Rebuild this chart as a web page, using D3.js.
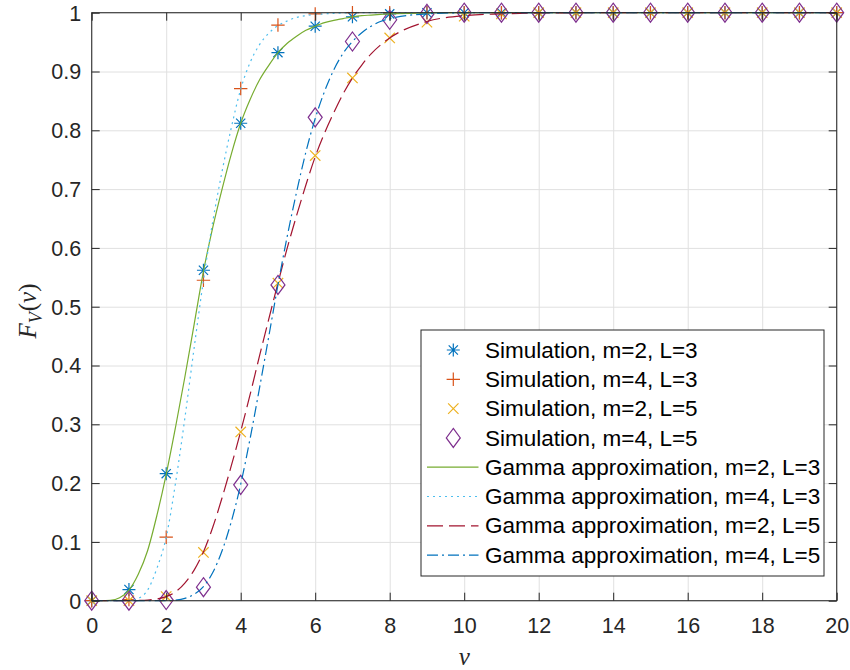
<!DOCTYPE html>
<html>
<head>
<meta charset="UTF-8">
<title>CDF of V: simulation vs Gamma approximation</title>
<script src="https://d3js.org/d3.v7.min.js"></script>
<style>
    body { margin: 0; background: #fff; }
    .tick text { font-family: "Liberation Sans", Arial, Helvetica, sans-serif; font-size: 21.5px; fill: #262626; }
    .legend text { font-family: "Liberation Sans", Arial, Helvetica, sans-serif; font-size: 22.5px; fill: #000; }
</style>
</head>
<body>
<div id="chart"></div>
<script>
// simulation points
const simV    = [0, 1, 2, 3, 4, 5, 6, 7, 8, 9, 10, 11, 12, 13, 14, 15, 16, 17, 18, 19, 20];
const simM2L3 = [0, 0.019, 0.216, 0.562, 0.812, 0.932, 0.977, 0.993, 0.998, 1, 1, 1, 1, 1, 1, 1, 1, 1, 1, 1, 1];
const simM4L3 = [0, 0.002, 0.108, 0.545, 0.871, 0.979, 0.998, 1, 1, 1, 1, 1, 1, 1, 1, 1, 1, 1, 1, 1, 1];
const simM2L5 = [0, 0, 0.007, 0.082, 0.287, 0.54, 0.757, 0.889, 0.957, 0.984, 0.994, 0.998, 1, 1, 1, 1, 1, 1, 1, 1, 1];
const simM4L5 = [0, 0, 0.001, 0.023, 0.197, 0.537, 0.822, 0.951, 0.988, 0.998, 1, 1, 1, 1, 1, 1, 1, 1, 1, 1, 1];

// gamma approximation curves
const gridV = [0, 0.25, 0.5, 0.75, 1, 1.25, 1.5, 1.75, 2, 2.25, 2.5, 2.75, 3, 3.25, 3.5, 3.75,
               4, 4.25, 4.5, 4.75, 5, 5.25, 5.5, 5.75, 6, 6.25, 6.5, 6.75, 7, 7.25, 7.5, 7.75,
               8, 9, 10, 11, 12, 14, 16, 18, 20];
const gamM2L3 = [0, 0, 0.0005, 0.005, 0.018, 0.045, 0.085, 0.145, 0.215, 0.295, 0.38, 0.47, 0.56, 0.635, 0.70, 0.76,
                 0.812, 0.852, 0.885, 0.91, 0.932, 0.948, 0.96, 0.97, 0.977, 0.983, 0.987, 0.99, 0.993, 0.995, 0.996, 0.997,
                 0.998, 0.9995, 1, 1, 1, 1, 1, 1, 1];
const gamM4L3 = [0, 0, 0, 0, 0.0005, 0.004, 0.018, 0.055, 0.108, 0.2, 0.31, 0.43, 0.545, 0.645, 0.73, 0.805,
                 0.87, 0.915, 0.945, 0.965, 0.978, 0.986, 0.992, 0.995, 0.997, 0.998, 0.999, 0.9995, 1, 1, 1, 1,
                 1, 1, 1, 1, 1, 1, 1, 1, 1];
const gamM2L5 = [0, 0, 0, 0, 0, 0.0003, 0.001, 0.003, 0.007, 0.015, 0.03, 0.052, 0.083, 0.125, 0.175, 0.23,
                 0.288, 0.35, 0.415, 0.478, 0.54, 0.6, 0.655, 0.707, 0.755, 0.795, 0.83, 0.862, 0.889, 0.911, 0.93, 0.945,
                 0.957, 0.985, 0.995, 0.998, 0.9995, 1, 1, 1, 1];
const gamM4L5 = [0, 0, 0, 0, 0, 0, 0, 0, 0, 0.001, 0.004, 0.011, 0.024, 0.048, 0.085, 0.135,
                 0.198, 0.275, 0.36, 0.448, 0.537, 0.62, 0.695, 0.763, 0.82, 0.866, 0.903, 0.931, 0.951, 0.966, 0.977, 0.985,
                 0.99, 0.998, 1, 1, 1, 1, 1, 1, 1];

const xTicks = [0, 2, 4, 6, 8, 10, 12, 14, 16, 18, 20];
const yTicks = [0, 0.1, 0.2, 0.3, 0.4, 0.5, 0.6, 0.7, 0.8, 0.9, 1];
const yTickLabels = ["0", "0.1", "0.2", "0.3", "0.4", "0.5", "0.6", "0.7", "0.8", "0.9", "1"];

const simLabels = ["Simulation, m=2, L=3", "Simulation, m=4, L=3", "Simulation, m=2, L=5", "Simulation, m=4, L=5"];
const gamLabels = ["Gamma approximation, m=2, L=3", "Gamma approximation, m=4, L=3",
                   "Gamma approximation, m=2, L=5", "Gamma approximation, m=4, L=5"];

const width = 850, height = 670;
const plot = { left: 91.7, right: 836.7, top: 12.7, bottom: 600.7 };
const axisColor = "#262626";

const svg = d3.select("#chart").append("svg")
    .attr("width", width)
    .attr("height", height);

const x = d3.scaleLinear().domain([0, 20]).range([plot.left, plot.right]);
const y = d3.scaleLinear().domain([0, 1]).range([plot.bottom, plot.top]);

// grid
svg.append("g")
    .attr("transform", `translate(0,${plot.bottom})`)
    .call(d3.axisBottom(x).tickValues(xTicks).tickSize(-(plot.bottom - plot.top)).tickFormat(""))
    .call(g => g.select(".domain").remove())
    .selectAll("line").attr("stroke", "#e0e0e0").attr("stroke-width", 1);
svg.append("g")
    .attr("transform", `translate(${plot.left},0)`)
    .call(d3.axisLeft(y).tickValues(yTicks).tickSize(-(plot.right - plot.left)).tickFormat(""))
    .call(g => g.select(".domain").remove())
    .selectAll("line").attr("stroke", "#e0e0e0").attr("stroke-width", 1);

// marker shapes
function markerPath(type, cx, cy) {
    if (type === "asterisk") {
        const r = 6.5, d = 4.6;
        return `M${cx - r},${cy}H${cx + r}M${cx},${cy - r}V${cy + r}` +
               `M${cx - d},${cy - d}L${cx + d},${cy + d}M${cx - d},${cy + d}L${cx + d},${cy - d}`;
    }
    if (type === "plus") {
        const r = 6.7;
        return `M${cx - r},${cy}H${cx + r}M${cx},${cy - r}V${cy + r}`;
    }
    if (type === "cross") {
        const d = 5.2;
        return `M${cx - d},${cy - d}L${cx + d},${cy + d}M${cx - d},${cy + d}L${cx + d},${cy - d}`;
    }
    const w = 7, h = 9.5;
    return `M${cx},${cy - h}L${cx + w},${cy}L${cx},${cy + h}L${cx - w},${cy}Z`;
}

const simSeries = [
    { values: simM2L3, marker: "asterisk", color: "#0072BD" },
    { values: simM4L3, marker: "plus",     color: "#D95319" },
    { values: simM2L5, marker: "cross",    color: "#EDB120" },
    { values: simM4L5, marker: "diamond",  color: "#7E2F8E" }
];
const gamSeries = [
    { values: gamM2L3, color: "#77AC30", dash: null },
    { values: gamM4L3, color: "#4DBEEE", dash: "2,4" },
    { values: gamM2L5, color: "#A2142F", dash: "16,6" },
    { values: gamM4L5, color: "#0072BD", dash: "11,4,2,4" }
];

// simulation markers
simSeries.forEach(s => {
    svg.append("g")
        .selectAll("path")
        .data(simV.map((v, i) => [v, s.values[i]]))
        .join("path")
        .attr("d", d => markerPath(s.marker, x(d[0]), y(d[1])))
        .attr("fill", "none")
        .attr("stroke", s.color)
        .attr("stroke-width", 1.2);
});

// gamma curves
const line = d3.line()
    .x(d => x(d[0]))
    .y(d => y(d[1]))
    .curve(d3.curveMonotoneX);

gamSeries.forEach(s => {
    svg.append("path")
        .datum(gridV.map((v, i) => [v, s.values[i]]))
        .attr("d", line)
        .attr("fill", "none")
        .attr("stroke", s.color)
        .attr("stroke-width", 1.2)
        .attr("stroke-dasharray", s.dash);
});

// axes (ticks point inward, box on)
const tickLen = 8;
const gx = svg.append("g")
    .attr("transform", `translate(0,${plot.bottom})`)
    .call(d3.axisBottom(x).tickValues(xTicks).tickSizeInner(-tickLen).tickSizeOuter(0).tickPadding(17));
const gy = svg.append("g")
    .attr("transform", `translate(${plot.left},0)`)
    .call(d3.axisLeft(y).tickValues(yTicks).tickSizeInner(-tickLen).tickSizeOuter(0).tickPadding(10.5)
        .tickFormat((d, i) => yTickLabels[i]));
gy.selectAll("text").attr("dy", "0.34em");
const gt = svg.append("g")
    .attr("transform", `translate(0,${plot.top})`)
    .call(d3.axisTop(x).tickValues(xTicks).tickSizeInner(-tickLen).tickSizeOuter(0).tickFormat(""));
const gr = svg.append("g")
    .attr("transform", `translate(${plot.right},0)`)
    .call(d3.axisRight(y).tickValues(yTicks).tickSizeInner(-tickLen).tickSizeOuter(0).tickFormat(""));
[gx, gy, gt, gr].forEach(g => {
    g.select(".domain").remove();
    g.selectAll("line").attr("stroke", axisColor).attr("stroke-width", 1);
});

svg.append("rect")
    .attr("x", plot.left)
    .attr("y", plot.top)
    .attr("width", plot.right - plot.left)
    .attr("height", plot.bottom - plot.top)
    .attr("fill", "none")
    .attr("stroke", axisColor)
    .attr("stroke-width", 1);

// axis labels
svg.append("text")
    .attr("x", (plot.left + plot.right) / 2)
    .attr("y", 665)
    .attr("text-anchor", "middle")
    .attr("font-family", "'Liberation Serif', 'DejaVu Serif', serif")
    .attr("font-style", "italic")
    .attr("font-size", "25px")
    .attr("fill", axisColor)
    .text("v");

const yl = svg.append("text")
    .attr("transform", `translate(36,311) rotate(-90)`)
    .attr("text-anchor", "middle")
    .attr("font-family", "'Liberation Serif', 'DejaVu Serif', serif")
    .attr("font-size", "25px")
    .attr("fill", axisColor);
yl.append("tspan").attr("font-style", "italic").text("F");
yl.append("tspan").attr("font-style", "italic").attr("font-size", "18px").attr("dy", "6").text("V");
yl.append("tspan").attr("dy", "-6").attr("dx", "1").text("(");
yl.append("tspan").attr("font-style", "italic").text("v");
yl.append("tspan").text(")");

// legend
const lg = svg.append("g").attr("class", "legend");
const box = { x: 421, y: 330, w: 403, h: 246 };
lg.append("rect")
    .attr("x", box.x).attr("y", box.y)
    .attr("width", box.w).attr("height", box.h)
    .attr("fill", "#fff")
    .attr("stroke", axisColor)
    .attr("stroke-width", 1);

const rowY = i => 350 + i * 29.3;
simSeries.forEach((s, i) => {
    lg.append("path")
        .attr("d", markerPath(s.marker, 453.3, rowY(i)))
        .attr("fill", "none")
        .attr("stroke", s.color)
        .attr("stroke-width", 1.2);
    lg.append("text").attr("x", 485).attr("y", rowY(i) + 7.6).text(simLabels[i]);
});
gamSeries.forEach((s, j) => {
    const i = j + 4;
    lg.append("line")
        .attr("x1", 427).attr("x2", 478.5)
        .attr("y1", rowY(i)).attr("y2", rowY(i))
        .attr("stroke", s.color)
        .attr("stroke-width", 1.2)
        .attr("stroke-dasharray", s.dash);
    lg.append("text").attr("x", 485).attr("y", rowY(i) + 7.6).text(gamLabels[j]);
});
</script>
</body>
</html>
